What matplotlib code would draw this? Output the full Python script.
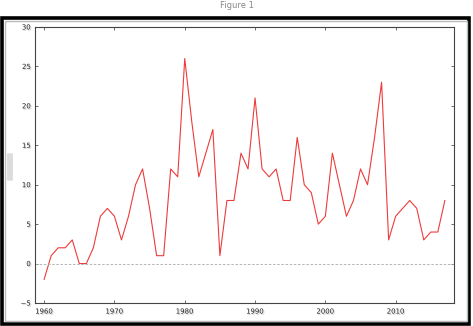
import matplotlib
matplotlib.use('Agg')
from matplotlib import pyplot as plt
from matplotlib import patches
import matplotlib.patheffects as pe

# yearly values
years = list(range(1960, 2018))
values = [-2, 1, 2, 2, 3, 0, 0, 2, 6, 7,
          6, 3, 6, 10, 12, 7, 1, 1, 12, 11,
          26, 18, 11, 14, 17, 1, 8, 8, 14, 12,
          21, 12, 11, 12, 8, 8, 16, 10, 9, 5,
          6, 14, 10, 6, 8, 12, 10, 16, 23, 3,
          6, 7, 8, 7, 3, 4, 4, 8]
xticks = [1960, 1970, 1980, 1990, 2000, 2010]
yticks = [-5, 0, 5, 10, 15, 20, 25, 30]

W, H = 473, 326
fig = plt.figure(figsize=(W / 100, H / 100), dpi=100)

# title above the frame
fig.text(0.5, 1 - 6 / H, 'Figure 1', ha='center', va='center',
         fontsize=6, color='#888888')

# black frame around the chart, with a soft grey edge inside
frame = patches.Rectangle((2 / W, 2.5 / H), 467 / W, 305.5 / H,
                          transform=fig.transFigure, fill=False,
                          edgecolor='black', linewidth=2.6)
inner = patches.Rectangle((4.5 / W, 5 / H), 462 / W, 300.5 / H,
                          transform=fig.transFigure, fill=False,
                          edgecolor='#bbbbbb', linewidth=1.0)
fig.patches.extend([frame, inner])

# blurred y label placeholder
blob = patches.FancyBboxPatch((8 / W, 1 - 180 / H), 4 / W, 26 / H,
                              boxstyle='round,pad=0.002',
                              transform=fig.transFigure,
                              facecolor='#dcdcdc', edgecolor='none')
fig.patches.append(blob)

ax = fig.add_axes([35 / W, 1 - 303 / H, 419 / W, 276 / H])
ax.plot(years, values, color='#ee3b3b', linewidth=0.8)
ax.axhline(0, color='#aaaaaa', linewidth=0.6, dashes=(3, 2))

ax.set(xlim=(1958.7, 2018.3), ylim=(-5, 30))
ax.set_xticks(xticks)
ax.set_yticks(yticks)
ax.tick_params(direction='in', length=2.5, width=0.6, color='#555555',
               top=True, right=True, labelsize=5, labelcolor='#222222')
ax.tick_params(axis='y', pad=3)
ax.tick_params(axis='x', pad=4)
for s in ax.spines.values():
    s.set_color('#444444')
    s.set_linewidth(0.8)

shadow = [pe.withSimplePatchShadow(offset=(0.8, -0.8), shadow_rgbFace='#999999', alpha=0.5)]
for lab in ax.get_xticklabels() + ax.get_yticklabels():
    lab.set_path_effects(shadow)

fig.savefig('out.png', dpi=100)
